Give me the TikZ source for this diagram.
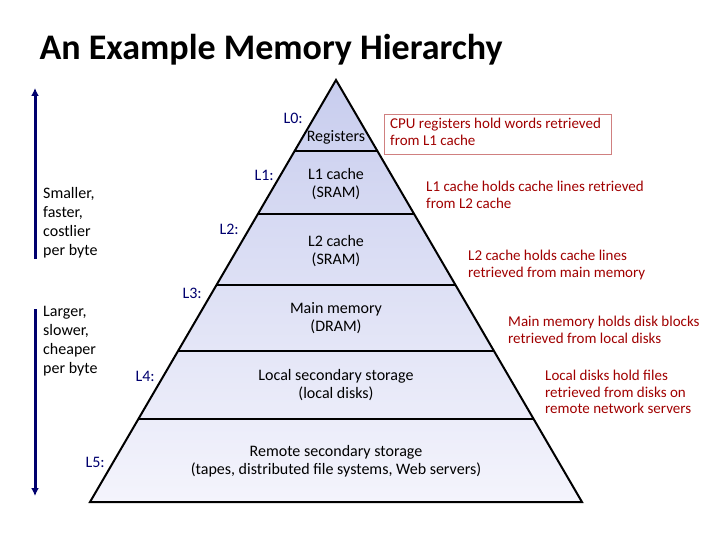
\documentclass[tikz,border=0pt]{standalone}
\usepackage{fontspec}
\setmainfont{Carlito}
\usetikzlibrary{arrows.meta}
\definecolor{lvl}{RGB}{0,0,110}
\definecolor{note}{RGB}{160,0,0}
\definecolor{band}{RGB}{200,205,238}
\definecolor{bandlow}{RGB}{244,244,252}
\begin{document}
\begin{tikzpicture}[x=1pt,y=-1pt,
    lbl/.style={text=lvl, font=\fontsize{16}{18}\selectfont, anchor=west},
    inner/.style={align=center, font=\fontsize{16}{18}\selectfont},
    rednote/.style={text=note, align=left, anchor=north west, font=\fontsize{15}{16.5}\selectfont, inner sep=0},
    side/.style={align=left, anchor=north west, font=\fontsize{16}{19}\selectfont, inner sep=0}]
    \useasboundingbox (0,0) rectangle (720,540);
    % Title
    \node[anchor=west, font=\fontsize{36}{38}\selectfont\bfseries] (title) at (36,50) {An Example Memory Hierarchy};

    % Pyramid
    \shade[top color=band, bottom color=bandlow] (336,80) -- (582,502) -- (90,502) -- cycle;
    \draw[line width=2pt] (336,80) -- (582,502) -- (90,502) -- cycle;
    \foreach \y in {151,214.5,285,351,419}{
        \pgfmathsetmacro{\hw}{(\y-80)/422*246}
        \draw[line width=2pt] (336-\hw,\y) -- (336+\hw,\y);
    }

    % Level texts
    \node[inner] (reg) at (336,137) {Registers};
    \node[inner] (l1) at (336,184) {L1 cache\\(SRAM)};
    \node[inner] (l2) at (336,251) {L2 cache\\(SRAM)};
    \node[inner] (mm) at (336,318) {Main memory\\(DRAM)};
    \node[inner] (ls) at (336,385) {Local secondary storage\\(local disks)};
    \node[inner] (rs) at (336,461) {Remote secondary storage\\(tapes, distributed file systems, Web servers)};

    % Level labels
    \node[lbl] (L0) at (280,118) {L0:};
    \node[lbl] (L1) at (251,175) {L1:};
    \node[lbl] (L2) at (216,229) {L2:};
    \node[lbl] (L3) at (179,293) {L3:};
    \node[lbl] (L4) at (132,376) {L4:};
    \node[lbl] (L5) at (82,462) {L5:};

    % Notes
    \draw[note!50, line width=0.8pt] (384,114) rectangle (611,154);
    \node[rednote] (n0) at (390,118) {CPU registers hold words retrieved\\from L1 cache};
    \node[rednote] (n1) at (426,181) {L1 cache holds cache lines retrieved\\from L2 cache};
    \node[rednote] (n2) at (468,250) {L2 cache holds cache lines\\retrieved from main memory};
    \node[rednote] (n3) at (508,316) {Main memory holds disk blocks\\retrieved from local disks};
    \node[rednote] (n4) at (545,370) {Local disks hold files\\retrieved from disks on\\remote network servers};

    % Side arrows
    \coordinate (uptop) at (35,88);
    \coordinate (upbot) at (35,259);
    \coordinate (dntop) at (35,309);
    \coordinate (dnbot) at (35,496);
    \draw[lvl, line width=3pt, -{Latex[length=8pt,width=8pt]}] (upbot) -- (uptop);
    \draw[lvl, line width=3pt, -{Latex[length=8pt,width=8pt]}] (dntop) -- (dnbot);
    \node[side] (fast) at (43,187) {Smaller,\\faster,\\costlier\\per byte};
    \node[side] (slow) at (43,306) {Larger,\\slower,\\cheaper\\per byte};
\end{tikzpicture}
\end{document}
